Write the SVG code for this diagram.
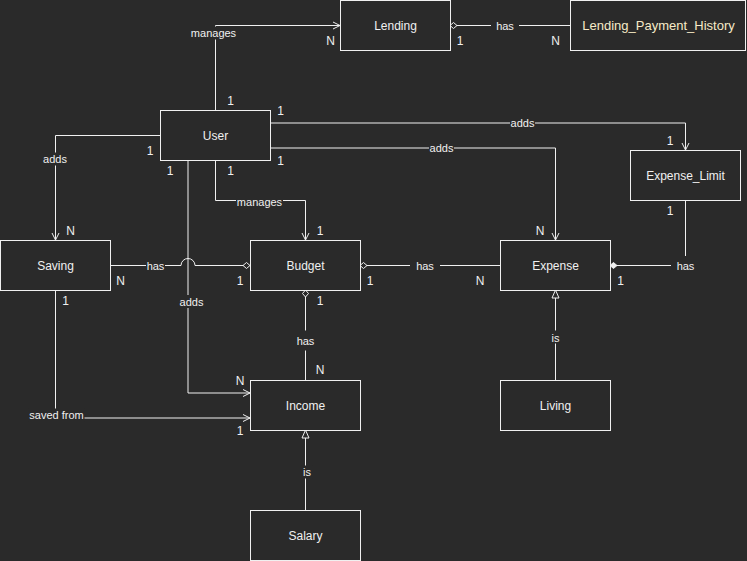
<svg xmlns="http://www.w3.org/2000/svg" width="747" height="561" viewBox="0 0 747 561">
<style>
.bg{fill:#2a2a2a}
.node rect{fill:#2a2a2a;stroke:#f0f0f0;stroke-width:1}
.node text{font-family:"Liberation Sans",Arial,sans-serif;font-size:12px;fill:#f0f0f0;text-anchor:middle;dominant-baseline:central}
.edge{fill:none;stroke:#f0f0f0;stroke-width:1}
.lb{fill:#2a2a2a}
.lt{font-family:"Liberation Sans",Arial,sans-serif;font-size:11px;fill:#f0f0f0;text-anchor:middle;dominant-baseline:central}
.card{font-family:"Liberation Sans",Arial,sans-serif;font-size:12px;fill:#f0f0f0;text-anchor:middle;dominant-baseline:central}
</style>
<defs>
<marker id="open" viewBox="0 0 10 10" markerWidth="10" markerHeight="10" refX="9" refY="5" orient="auto" markerUnits="userSpaceOnUse"><path d="M2,1.5 L9,5 L2,8.5" fill="none" stroke="#f0f0f0" stroke-width="1"/></marker>
<marker id="dia" viewBox="0 0 10 8" markerWidth="10" markerHeight="8" refX="1" refY="4" orient="auto" markerUnits="userSpaceOnUse"><path d="M1,4 L4.5,1 L8,4 L4.5,7 Z" fill="#2a2a2a" stroke="#f0f0f0" stroke-width="1"/></marker>
<marker id="diaf" viewBox="0 0 10 8" markerWidth="10" markerHeight="8" refX="1" refY="4" orient="auto" markerUnits="userSpaceOnUse"><path d="M1,4 L4.5,1 L8,4 L4.5,7 Z" fill="#f0f0f0" stroke="#f0f0f0" stroke-width="1"/></marker>
<marker id="tri" viewBox="0 0 10 10" markerWidth="10" markerHeight="10" refX="9" refY="5" orient="auto" markerUnits="userSpaceOnUse"><path d="M1,1.5 L9,5 L1,8.5 Z" fill="#2a2a2a" stroke="#f0f0f0" stroke-width="1"/></marker>
</defs>
<rect class="bg" x="0" y="0" width="747" height="561"/>

<g id="connectors">
  <path class="edge" d="M215.5,110 V25.5 H340" marker-end="url(#open)"/>
  <path class="edge" d="M450,25.5 H570" marker-start="url(#dia)"/>
  <path class="edge" d="M160,135.5 H55.5 V240" marker-end="url(#open)"/>
  <path class="edge" d="M215.5,160 V200.5 H305.5 V240" marker-end="url(#open)"/>
  <path class="edge" d="M188,160 V393 H250" marker-end="url(#open)"/>
  <path class="edge" d="M250,265.5 H195 A7,7 0 0 0 181,265.5 H110" marker-start="url(#dia)"/>
  <path class="edge" d="M55.5,290 V418 H250" marker-end="url(#open)"/>
  <path class="edge" d="M360,265.5 H500" marker-start="url(#dia)"/>
  <path class="edge" d="M270,148 H555.5 V240" marker-end="url(#open)"/>
  <path class="edge" d="M270,123 H685.5 V150" marker-end="url(#open)"/>
  <path class="edge" d="M610,265.5 H685.5 V200" marker-start="url(#diaf)"/>
  <path class="edge" d="M305.5,290 V380" marker-start="url(#dia)"/>
  <path class="edge" d="M555.5,380 V290" marker-end="url(#tri)"/>
  <path class="edge" d="M305.5,510 V430" marker-end="url(#tri)"/>

  <!-- edge labels -->
  <rect class="lb" x="190" y="26.5" width="47" height="13"/><text class="lt" x="213.5" y="33">manages</text>
  <rect class="lb" x="491" y="19" width="28" height="13"/><text class="lt" x="505" y="25.5">has</text>
  <rect class="lb" x="42.5" y="152.5" width="25" height="13"/><text class="lt" x="55" y="159">adds</text>
  <rect class="lb" x="236" y="195" width="47" height="13"/><text class="lt" x="259.5" y="201.5">manages</text>
  <rect class="lb" x="146" y="259" width="19" height="13"/><text class="lt" x="155.5" y="265.5">has</text>
  <rect class="lb" x="179" y="295" width="25" height="13"/><text class="lt" x="191.5" y="301.5">adds</text>
  <rect class="lb" x="28.5" y="408.5" width="56" height="13"/><text class="lt" x="56.5" y="415">saved from</text>
  <rect class="lb" x="410" y="259" width="30" height="13"/><text class="lt" x="425" y="265.5">has</text>
  <rect class="lb" x="510" y="116" width="25" height="13"/><text class="lt" x="522.5" y="122.5">adds</text>
  <rect class="lb" x="429" y="141" width="25" height="13"/><text class="lt" x="441.5" y="147.5">adds</text>
  <rect class="lb" x="671" y="256" width="29" height="20"/><text class="lt" x="685.5" y="266">has</text>
  <rect class="lb" x="294" y="330.5" width="23" height="20"/><text class="lt" x="305.5" y="340.5">has</text>
  <rect class="lb" x="550" y="330.5" width="11" height="13"/><text class="lt" x="555.5" y="337.5">is</text>
  <rect class="lb" x="301.5" y="465.5" width="11" height="13"/><text class="lt" x="307" y="472">is</text>

  <!-- cardinalities -->
  <text class="card" x="230.5" y="101">1</text>
  <text class="card" x="330.5" y="41">N</text>
  <text class="card" x="460" y="41">1</text>
  <text class="card" x="555.5" y="41">N</text>
  <text class="card" x="280.5" y="110.5">1</text>
  <text class="card" x="150" y="151">1</text>
  <text class="card" x="280.5" y="160.5">1</text>
  <text class="card" x="170" y="171">1</text>
  <text class="card" x="230.5" y="171">1</text>
  <text class="card" x="670" y="141">1</text>
  <text class="card" x="70.5" y="231">N</text>
  <text class="card" x="320" y="231">1</text>
  <text class="card" x="540" y="231">N</text>
  <text class="card" x="120.5" y="281">N</text>
  <text class="card" x="240" y="281">1</text>
  <text class="card" x="370" y="281">1</text>
  <text class="card" x="480" y="281">N</text>
  <text class="card" x="620.5" y="281">1</text>
  <text class="card" x="670" y="211">1</text>
  <text class="card" x="65.5" y="301">1</text>
  <text class="card" x="320" y="301">1</text>
  <text class="card" x="320" y="370">N</text>
  <text class="card" x="240" y="380.5">N</text>
  <text class="card" x="240" y="431">1</text>
</g>

<g id="Lending" class="node"><rect x="340.5" y="0.5" width="110" height="50"/><text x="395.5" y="25.5">Lending</text></g>
<g id="Lending_Payment_History" class="node"><rect x="570.5" y="0.5" width="175" height="50"/><text x="658.5" y="25.5" style="fill:#f7ebc8;font-size:13px">Lending_Payment_History</text></g>
<g id="User" class="node"><rect x="160.5" y="110.5" width="110" height="50"/><text x="215.5" y="135.5">User</text></g>
<g id="Expense_Limit" class="node"><rect x="630.5" y="150.5" width="110" height="50"/><text x="685.5" y="175.5">Expense_Limit</text></g>
<g id="Saving" class="node"><rect x="0.5" y="240.5" width="110" height="50"/><text x="55.5" y="265.5">Saving</text></g>
<g id="Budget" class="node"><rect x="250.5" y="240.5" width="110" height="50"/><text x="305.5" y="265.5">Budget</text></g>
<g id="Expense" class="node"><rect x="500.5" y="240.5" width="110" height="50"/><text x="555.5" y="265.5">Expense</text></g>
<g id="Income" class="node"><rect x="250.5" y="380.5" width="110" height="50"/><text x="305.5" y="405.5">Income</text></g>
<g id="Living" class="node"><rect x="500.5" y="380.5" width="110" height="50"/><text x="555.5" y="405.5">Living</text></g>
<g id="Salary" class="node"><rect x="250.5" y="510.5" width="110" height="50"/><text x="305.5" y="535.5">Salary</text></g>
</svg>
